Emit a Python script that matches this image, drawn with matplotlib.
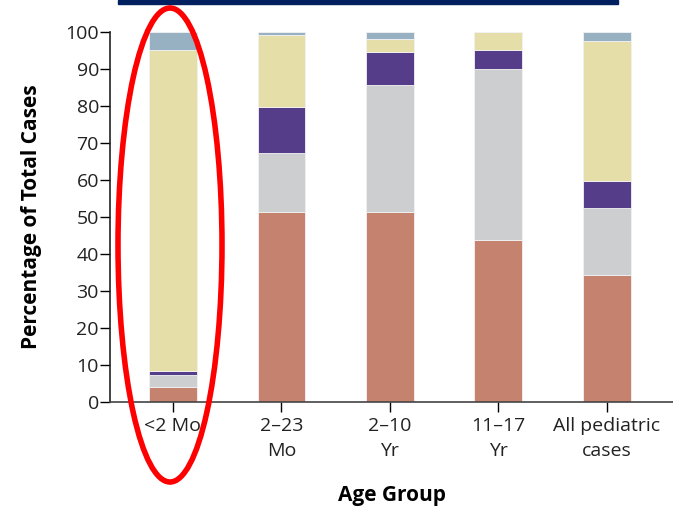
import matplotlib.pyplot as plt
from matplotlib.patches import Ellipse, Rectangle
import numpy as np

plt.rcParams['font.family'] = ['Open Sans', 'DejaVu Sans']

# Age groups and stacked percentages (bottom to top)
groups = ["<2 Mo", "2\u201323\nMo", "2\u201310\nYr", "11\u201317\nYr", "All pediatric\ncases"]
seg_salmon = [4.0, 51.4, 51.3, 43.9, 34.2]
seg_gray = [3.3, 15.9, 34.3, 46.2, 18.3]
seg_purple = [1.2, 12.3, 9.1, 4.9, 7.1]
seg_yellow = [86.6, 19.7, 3.4, 5.0, 38.0]
seg_blue = [4.9, 0.7, 1.9, 0.0, 2.4]

segments = [seg_salmon, seg_gray, seg_purple, seg_yellow, seg_blue]
colors = ["#C4826F", "#CDCED0", "#553D8A", "#E5DEA9", "#97B1C3"]

fig = plt.figure(figsize=(6.73, 5.11), dpi=100)
ax = fig.add_axes([110/673, 109/511, 563/673, 370/511])

x = np.arange(len(groups))
bottom = np.zeros(len(groups))
for vals, c in zip(segments, colors):
    ax.bar(x, vals, width=0.44, bottom=bottom, color=c, edgecolor="#f2f2f2", linewidth=0.6)
    bottom += np.array(vals)

ax.set_xlim(-0.58, 4.61)
ax.set_ylim(0, 100)
ax.set_yticks(range(0, 101, 10))
ax.set_xticks(x)
ax.set_xticklabels(groups, fontsize=14, color="#222222", linespacing=1.45)
ax.tick_params(axis="y", labelsize=14, labelcolor="#222222", length=7, width=1, direction="out", pad=1)
ax.tick_params(axis="x", length=7, width=1, direction="out", pad=4)

for s in ["top", "right"]:
    ax.spines[s].set_visible(False)
ax.spines["left"].set_linewidth(1.2)
ax.spines["bottom"].set_linewidth(1.2)
ax.spines["left"].set_color("#222222")
ax.spines["bottom"].set_color("#444444")

ax.set_ylabel("Percentage of Total Cases", fontsize=15, fontweight="bold", labelpad=17)
ax.set_xlabel("Age Group", fontsize=15, fontweight="bold", labelpad=18)

# navy banner line at top
fig.patches.append(Rectangle((118/673, 1 - 4/511), 500/673, 4/511, transform=fig.transFigure,
                             color="#002060", zorder=5))
# red highlight ellipse
fig.patches.append(Ellipse((170/673, 1 - 245/511), 104/673, 474/511, transform=fig.transFigure,
                           fill=False, edgecolor="#FF0000", linewidth=4, zorder=6))

fig.savefig("out.png", dpi=100)
